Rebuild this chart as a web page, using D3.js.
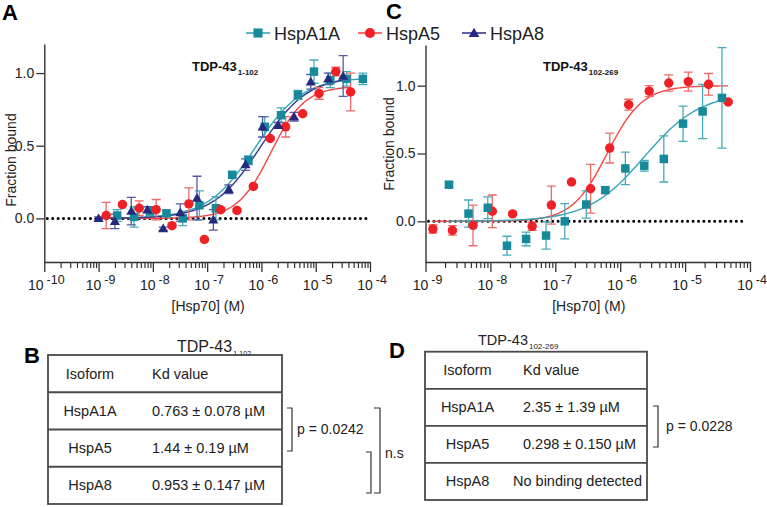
<!DOCTYPE html>
<html>
<head>
<meta charset="utf-8">
<script src="https://cdn.jsdelivr.net/npm/d3@7"></script>
<style>
  body { margin: 0; background: #fff; }
  svg { display: block; font-family: "Liberation Sans", Arial, sans-serif; }
</style>
</head>
<body>
<svg id="chart" width="767" height="507"></svg>
<script>
// ---- data ----
const isoforms = ["HspA1A", "HspA5", "HspA8"];

// panel A, TDP-43 1-102 (concentration in M, fraction bound, error)
const concA_A1A = [2.2e-9, 4.5e-9, 8.9e-9, 1.78e-8, 3.55e-8, 7.2e-8, 1.45e-7, 2.9e-7, 5.75e-7, 1.15e-6, 2.3e-6, 4.7e-6, 9.3e-6, 1.86e-5, 3.7e-5, 7.4e-5];
const fracA_A1A = [0.02, 0.01, 0.05, 0.035, 0.0, 0.09, 0.07, 0.30, 0.40, 0.63, 0.71, 0.85, 1.01, 0.95, 0.96, 0.96];
const errA_A1A  = [0.04, 0.07, 0.03, 0.02, 0.05, 0.10, 0.08, 0.02, 0.03, 0.07, 0.05, 0.03, 0.08, 0.05, 0.05, 0.04];

const concA_A5 = [1.38e-9, 2.75e-9, 5.6e-9, 1.15e-8, 2.25e-8, 4.6e-8, 8.9e-8, 1.78e-7, 3.55e-7, 7.1e-7, 1.45e-6, 2.8e-6, 5.75e-6, 1.15e-5, 2.35e-5, 4.4e-5];
const fracA_A5 = [0.02, 0.095, 0.07, 0.06, -0.05, 0.10, -0.145, 0.06, 0.055, 0.22, 0.55, 0.63, 0.72, 0.86, 1.01, 0.87];
const errA_A5  = [0.09, 0.01, 0.05, 0.07, 0.01, 0.11, 0.01, 0.01, 0.01, 0.01, 0.01, 0.07, 0.01, 0.04, 0.03, 0.13];

const concA_A8 = [1.0e-9, 2.0e-9, 4.0e-9, 7.9e-9, 1.55e-8, 3.2e-8, 6.5e-8, 1.3e-7, 2.5e-7, 5.1e-7, 1.05e-6, 2.05e-6, 4.0e-6, 8.1e-6, 1.7e-5, 3.2e-5];
const fracA_A8 = [0.0, -0.02, 0.05, 0.06, -0.07, 0.04, 0.14, -0.01, 0.20, 0.37, 0.63, 0.64, 0.70, 0.94, 0.96, 0.98];
const errA_A8  = [0.01, 0.05, 0.095, 0.02, 0.01, 0.06, 0.15, 0.07, 0.03, 0.04, 0.07, 0.02, 0.03, 0.05, 0.04, 0.14];

// panel C, TDP-43 102-269
const concC_A1A = [2.3e-9, 4.6e-9, 9.1e-9, 1.8e-8, 3.55e-8, 7.2e-8, 1.4e-7, 3.0e-7, 5.9e-7, 1.2e-6, 2.35e-6, 4.7e-6, 9.3e-6, 1.86e-5, 3.7e-5];
const fracC_A1A = [0.27, 0.057, 0.10, -0.18, -0.13, -0.105, 0.0, 0.124, 0.23, 0.39, 0.41, 0.46, 0.72, 0.81, 0.91];
const errC_A1A  = [0.02, 0.10, 0.08, 0.07, 0.05, 0.10, 0.13, 0.10, 0.02, 0.12, 0.04, 0.17, 0.13, 0.20, 0.37];

const concC_A5 = [1.3e-9, 2.6e-9, 5.4e-9, 1.07e-8, 2.2e-8, 4.4e-8, 8.7e-8, 1.78e-7, 3.5e-7, 6.9e-7, 1.35e-6, 2.8e-6, 5.6e-6, 1.12e-5, 2.3e-5, 4.6e-5];
const fracC_A5 = [-0.056, -0.067, -0.03, 0.074, 0.055, -0.037, 0.12, 0.29, 0.24, 0.54, 0.86, 0.96, 1.02, 1.03, 1.01, 0.88];
const errC_A5  = [0.03, 0.035, 0.15, 0.12, 0.01, 0.03, 0.14, 0.01, 0.18, 0.11, 0.04, 0.04, 0.06, 0.07, 0.08, 0.01];

// fitted curves: [EC50 (M), hill, top]
const fitA_A1A = [7.63e-7, 1.0, 0.97];
const fitA_A5  = [1.5e-6, 1.4, 0.91];
const fitA_A8  = [9.53e-7, 1.0, 0.98];
const fitC_A1A = [2.35e-6, 1.0, 0.95];
const fitC_A5  = [6.3e-7, 1.6, 1.0];

// tables
const kdB = ["0.763 \u00b1 0.078  \u00b5M", "1.44 \u00b1 0.19 \u00b5M", "0.953 \u00b1 0.147 \u00b5M"];
const kdD = ["2.35 \u00b1 1.39 \u00b5M", "0.298 \u00b1 0.150 \u00b5M", "No binding detected"];

const yTicks = [0, 0.5, 1.0];

// ---- styles ----
const styles = {
  HspA1A: { mark: "#17899a", line: "#35a6b6", err: "#48abb9", symbol: d3.symbolSquare, size: 72 },
  HspA5:  { mark: "#ee2226", line: "#f0474a", err: "#f06a6a", symbol: d3.symbolCircle, size: 70 },
  HspA8:  { mark: "#262a7e", line: "#34388e", err: "#5659a3", symbol: d3.symbolTriangle, size: 44 }
};

const svg = d3.select("#chart");
const axisColor = "#333";

function series(name, conc, frac, err, fit) {
  return { name, fit, pts: conc.map((c, i) => ({ c, f: frac[i], e: err[i] })) };
}

const panels = [
  {
    xr: [44.3, 370], yr: [262, 44], xd: [1e-10, 1e-4], yd: [-0.3, 1.2],
    title: "TDP-43", sub: "1-102", titleX: 192, ylabY: 160, ylabX: 15.5,
    dotEnd: 366,
    data: [
      series("HspA1A", concA_A1A, fracA_A1A, errA_A1A, fitA_A1A),
      series("HspA5", concA_A5, fracA_A5, errA_A5, fitA_A5),
      series("HspA8", concA_A8, fracA_A8, errA_A8, fitA_A8)
    ]
  },
  {
    xr: [425.5, 750], yr: [262, 45], xd: [1e-9, 1e-4], yd: [-0.3, 1.3],
    title: "TDP-43", sub: "102-269", titleX: 543, ylabY: 144, ylabX: 394,
    dotEnd: 747,
    data: [
      series("HspA5", concC_A5, fracC_A5, errC_A5, fitC_A5),
      series("HspA1A", concC_A1A, fracC_A1A, errC_A1A, fitC_A1A)
    ]
  }
];

panels.forEach(p => {
  const x = d3.scaleLog().domain(p.xd).range(p.xr);
  const y = d3.scaleLinear().domain(p.yd).range(p.yr);
  const g = svg.append("g");

  // y axis
  const ya = g.append("g")
    .attr("transform", `translate(${p.xr[0]},0)`)
    .call(d3.axisLeft(y).tickValues(yTicks).tickSize(8).tickSizeOuter(0).tickPadding(2)
      .tickFormat(d3.format(".1f")));
  ya.select(".domain").attr("stroke", axisColor).attr("stroke-width", 1.4);
  ya.selectAll(".tick line").attr("stroke", axisColor).attr("stroke-width", 1.3);
  ya.selectAll(".tick text").attr("font-size", 14).attr("fill", "#222")
    .attr("font-family", "Liberation Sans, Arial, sans-serif");

  // x axis: decades and minor ticks
  const lo = Math.round(Math.log10(p.xd[0])), hi = Math.round(Math.log10(p.xd[1]));
  const majors = d3.range(lo, hi + 1).map(e => Math.pow(10, e));
  const minors = [];
  d3.range(lo, hi).forEach(e => d3.range(2, 10).forEach(k => minors.push(k * Math.pow(10, e))));

  const xa = g.append("g")
    .attr("transform", `translate(0,${p.yr[0]})`)
    .call(d3.axisBottom(x).tickValues(majors).tickSize(10).tickSizeOuter(0).tickFormat(""));
  xa.select(".domain").attr("stroke", axisColor).attr("stroke-width", 1.4);
  xa.selectAll(".tick line").attr("stroke", axisColor).attr("stroke-width", 1.3);

  const xm = g.append("g")
    .attr("transform", `translate(0,${p.yr[0]})`)
    .call(d3.axisBottom(x).tickValues(minors).tickSize(6).tickSizeOuter(0).tickFormat(""));
  xm.select(".domain").remove();
  xm.selectAll(".tick line").attr("stroke", axisColor).attr("stroke-width", 1.2);

  const lab = g.append("g").selectAll("text").data(majors).join("text")
    .attr("x", d => x(d) + 2)
    .attr("y", p.yr[0] + 28)
    .attr("text-anchor", "middle")
    .attr("font-size", 14)
    .attr("fill", "#222");
  lab.append("tspan").text("10");
  lab.append("tspan").attr("dx", 3).attr("dy", -6).attr("font-size", 12.5)
    .text(d => "-" + Math.abs(Math.round(Math.log10(d))));

  g.append("text")
    .attr("x", (p.xr[0] + p.xr[1]) / 2 + 1)
    .attr("y", 311)
    .attr("text-anchor", "middle")
    .attr("font-size", 14)
    .attr("fill", "#222")
    .text("[Hsp70] (M)");

  g.append("text")
    .attr("transform", `translate(${p.ylabX},${p.ylabY}) rotate(-90)`)
    .attr("text-anchor", "middle")
    .attr("font-size", 14)
    .attr("fill", "#222")
    .text("Fraction bound");

  // dotted zero line
  g.append("line")
    .attr("x1", p.xr[0] + 3).attr("x2", p.dotEnd)
    .attr("y1", y(0)).attr("y2", y(0))
    .attr("stroke", "#000").attr("stroke-width", 3)
    .attr("stroke-linecap", "round").attr("stroke-dasharray", "0 5.4");

  // title
  const t = g.append("text").attr("x", p.titleX).attr("y", 70.7)
    .attr("font-size", 13).attr("font-weight", "bold").attr("fill", "#111");
  t.append("tspan").text(p.title);
  t.append("tspan").attr("dx", 1).attr("dy", 4).attr("font-size", 8).text(p.sub);

  // fitted curves
  const line = d3.line().x(d => x(d[0])).y(d => y(d[1]));
  p.data.forEach(s => {
    const [ec50, n, top] = s.fit;
    const c0 = d3.min(s.pts, d => d.c), c1 = d3.max(s.pts, d => d.c);
    const l0 = Math.log10(c0), l1 = Math.log10(c1);
    const curve = d3.range(0, 201).map(i => {
      const c = Math.pow(10, l0 + (l1 - l0) * i / 200);
      return [c, top / (1 + Math.pow(ec50 / c, n))];
    });
    g.append("path").attr("d", line(curve))
      .attr("fill", "none").attr("stroke", styles[s.name].line).attr("stroke-width", 1.4);
  });

  // error bars
  p.data.forEach(s => {
    const st = styles[s.name];
    const eb = g.append("g").attr("stroke", st.err).attr("stroke-width", 1.3).attr("fill", "none");
    s.pts.forEach(d => {
      const cx = x(d.c), ya0 = y(d.f - d.e), ya1 = y(d.f + d.e);
      eb.append("path").attr("d",
        `M${cx},${ya0}V${ya1}M${cx - 4.5},${ya1}H${cx + 4.5}M${cx - 4.5},${ya0}H${cx + 4.5}`);
    });
  });

  // markers
  p.data.forEach(s => {
    const st = styles[s.name];
    g.append("g").selectAll("path").data(s.pts).join("path")
      .attr("transform", d => `translate(${x(d.c)},${y(d.f) + (st.symbol === d3.symbolTriangle ? 0.8 : 0)})`)
      .attr("d", d3.symbol(st.symbol, st.size))
      .attr("fill", st.mark);
  });
});

// legend
const legendX = [258, 370, 474];
isoforms.forEach((name, i) => {
  const st = styles[name];
  const lg = svg.append("g").attr("transform", `translate(${legendX[i]},33)`);
  lg.append("line").attr("x1", -12).attr("x2", 12).attr("stroke", st.line).attr("stroke-width", 1.6);
  lg.append("path").attr("d", d3.symbol(st.symbol, st.size * 1.15)).attr("fill", st.mark)
    .attr("transform", st.symbol === d3.symbolTriangle ? "translate(0,1)" : null);
  lg.append("text").attr("x", 16).attr("y", 6.5).attr("font-size", 18).attr("fill", "#222").text(name);
});

// panel letters
[["A", 2, 20], ["C", 386, 18.5], ["B", 24, 363], ["D", 389, 358]].forEach(([l, lx, ly]) => {
  svg.append("text").attr("x", lx).attr("y", ly).attr("font-size", 22)
    .attr("font-weight", "bold").attr("fill", "#000").text(l);
});

// tables
function table(opt) {
  const g = svg.append("g");
  const rowH = (opt.bottom - opt.top) / 4;
  const tt = g.append("text").attr("x", opt.titleX).attr("y", opt.top - 3 - opt.titleDrop)
    .attr("font-size", opt.titleSize).attr("fill", "#222");
  tt.append("tspan").text("TDP-43");
  tt.append("tspan").attr("dx", 1).attr("dy", 4).attr("font-size", opt.subSize).text(opt.sub);

  g.append("rect").attr("x", opt.left).attr("y", opt.top)
    .attr("width", opt.right - opt.left).attr("height", opt.bottom - opt.top)
    .attr("fill", "none").attr("stroke", "#4a4a4a").attr("stroke-width", 1.8);
  d3.range(1, 4).forEach(r => {
    g.append("line").attr("x1", opt.left).attr("x2", opt.right)
      .attr("y1", opt.top + r * rowH).attr("y2", opt.top + r * rowH)
      .attr("stroke", "#4a4a4a").attr("stroke-width", 1.8);
  });
  const rows = [["Isoform", "Kd value"]].concat(isoforms.map((n, i) => [n, opt.kd[i]]));
  rows.forEach((r, i) => {
    const cy = opt.top + rowH * (i + 0.5) + 5;
    g.append("text").attr("x", opt.c1).attr("y", cy).attr("text-anchor", "middle")
      .attr("font-size", 14.5).attr("fill", "#222").text(r[0]);
    const t2 = g.append("text").attr("x", opt.c2).attr("y", cy)
      .attr("font-size", 14.5).attr("fill", "#222").text(r[1]);
    const w = t2.node().getComputedTextLength();
    if (opt.c2 + w > opt.right - 5) t2.attr("x", opt.right - 5 - w);
  });
  return g;
}

table({ left: 48, right: 282, top: 355, bottom: 504, c1: 90, c2: 152, kd: kdB,
  titleX: 177, titleDrop: 0, titleSize: 16, sub: "1-102", subSize: 7 });
table({ left: 425, right: 647, top: 351.7, bottom: 500, c1: 467.5, c2: 523, kd: kdD,
  titleX: 478, titleDrop: 4, titleSize: 14.5, sub: "102-269", subSize: 8 });

// significance brackets
function bracket(xv, y0, y1, arm) {
  svg.append("path")
    .attr("d", `M${xv - arm},${y0}H${xv}V${y1}H${xv - arm}`)
    .attr("fill", "none").attr("stroke", "#333").attr("stroke-width", 1.2);
}
function note(tx, ty, s) {
  svg.append("text").attr("x", tx).attr("y", ty).attr("font-size", 14).attr("fill", "#222").text(s);
}
bracket(292, 408, 451, 5);
note(297, 434, "p = 0.0242");
bracket(380, 408, 493, 6);
bracket(371, 452, 493, 5);
note(385, 458, "n.s");
bracket(658, 406, 447, 5);
note(666, 431, "p = 0.0228");
</script>
</body>
</html>
